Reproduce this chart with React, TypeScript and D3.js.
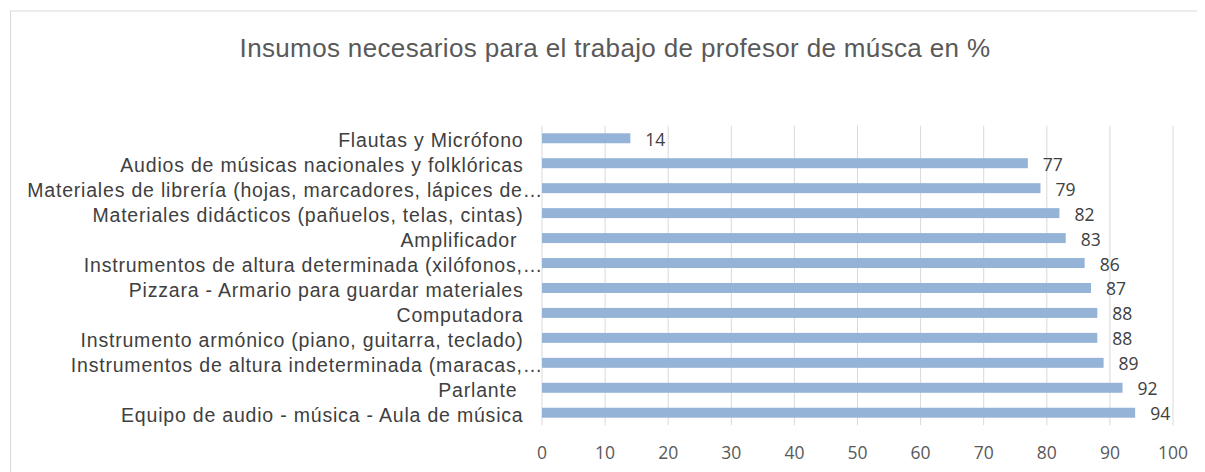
import React from "react";
import * as d3 from "d3";

const categories = [
  "Flautas y Micrófono",
  "Audios de músicas nacionales y folklóricas",
  "Materiales de librería (hojas, marcadores, lápices de…",
  "Materiales didácticos (pañuelos, telas, cintas)",
  "Amplificador ",
  "Instrumentos de altura determinada (xilófonos,…",
  "Pizzara - Armario para guardar materiales",
  "Computadora",
  "Instrumento armónico (piano, guitarra, teclado)",
  "Instrumentos de altura indeterminada (maracas,…",
  "Parlante ",
  "Equipo de audio - música - Aula de música",
];
const values = [14, 77, 79, 82, 83, 86, 87, 88, 88, 89, 92, 94];
const ticks = [0, 10, 20, 30, 40, 50, 60, 70, 80, 90, 100];
const title = "Insumos necesarios para el trabajo de profesor de músca en %";

export default function App() {
  const W = 1197, H = 464;
  const ox = 8, oy = 8; // body margin offset
  const x = d3.scaleLinear().domain([0, 100]).range([542 - ox, 1173 - ox]);
  const y = d3.scaleBand<string>().domain(categories).range([125.8 - oy, 425.2 - oy]).paddingInner(0.6).paddingOuter(0.3);
  const top = 125.8 - oy, bottom = 425.2 - oy;
  const arial = "'Liberation Sans', Arial, sans-serif";
  const num = "'Open Sans', 'Liberation Sans', sans-serif";
  return (
    <svg width={W} height={H} style={{ display: "block" }}>
      <rect x={2.5} y={3} width={1210} height={480} fill="#fff" stroke="#d9d9d9" strokeWidth={1} />
      <text x={615 - ox} y={57 - oy} textAnchor="middle" fontFamily={arial} fontSize={26} letterSpacing={0.35} fill="#595959">{title}</text>
      {ticks.map((t) => (
        <line key={"g" + t} x1={x(t)} x2={x(t)} y1={top} y2={bottom} stroke="#d9d9d9" strokeWidth={1} />
      ))}
      {categories.map((c, i) => {
        const truncated = c.endsWith("…");
        return (
          <g key={c}>
            <rect x={x(0)} y={y(c)!} width={x(values[i]) - x(0)} height={y.bandwidth()} fill="#95b3d7" />
            <text x={x(values[i]) + 15} y={y(c)! + y.bandwidth() / 2 + 7.5} fontFamily={num} fontSize={17.5} fill="#404040">{values[i]}</text>
            <text x={(truncated ? 543 : 523.5) - ox} y={y(c)! + y.bandwidth() / 2 + 9} textAnchor="end" fontFamily={arial} fontSize={19.5} letterSpacing={0.8} fill="#404040" style={{ whiteSpace: "pre" }}>{c}</text>
          </g>
        );
      })}
      {ticks.map((t) => (
        <text key={"t" + t} x={x(t)} y={459 - oy} textAnchor="middle" fontFamily={num} fontSize={17.5} fill="#595959">{t}</text>
      ))}
    </svg>
  );
}
